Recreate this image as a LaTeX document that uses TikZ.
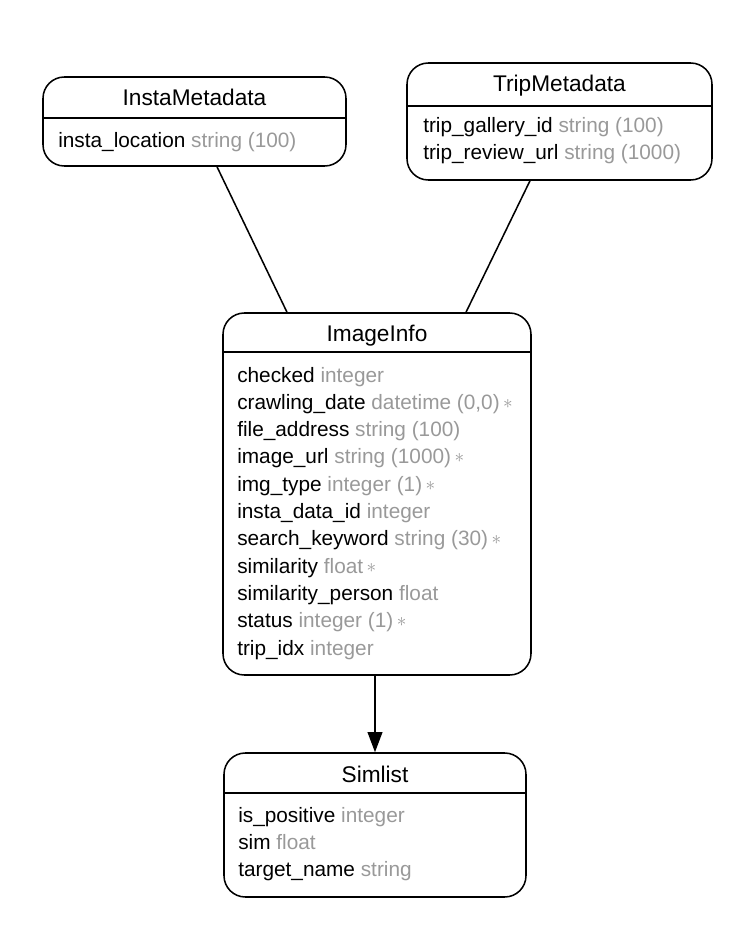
\documentclass[tikz,border=0pt]{standalone}
\usepackage{fontspec}
\setmainfont{Liberation Sans}
\usepackage{xcolor}
\usetikzlibrary{positioning, calc, fit, arrows.meta}
\definecolor{typegray}{gray}{0.6}

\newcommand{\fld}[2]{#1 \textcolor{typegray}{#2}}
\newcommand{\req}{\,\textcolor{typegray}{\raisebox{0.1ex}{$\ast$}}}

\tikzset{
	tablebox/.style={draw, line width=1.15pt, rounded corners=16pt, inner sep=0pt},
	tabletitle/.style={font=\fontsize{17}{20}\selectfont, inner sep=0pt, anchor=base},
	fieldrow/.style={font=\fontsize{15.6}{19}\selectfont, inner sep=0pt, anchor=base west},
	relation/.style={line width=1.15pt},
	headline/.style={line width=1.15pt}
}

\begin{document}
\begin{tikzpicture}[x=0.75pt, y=-0.75pt]
		\useasboundingbox (0,0) rectangle (744,932);
		\pgfmathsetmacro{\rowstep}{27.3}
		
		% InstaMetadata
		\coordinate (insta-nw) at (43,77);
		\coordinate (insta-se) at (346,166);
		\node[tablebox, fit=(insta-nw)(insta-se)] (insta) {};
		\draw[headline] (insta.west |- 0,118) -- (insta.east |- 0,118);
		\node[tabletitle] (insta-title) at (insta.north |- 0,105) {InstaMetadata};
		\node[fieldrow] (insta-f0) at (58,147) {\fld{insta\_location}{string (100)}};
		
		% TripMetadata
		\coordinate (trip-nw) at (407,63);
		\coordinate (trip-se) at (712,180);
		\node[tablebox, fit=(trip-nw)(trip-se)] (trip) {};
		\draw[headline] (trip.west |- 0,106) -- (trip.east |- 0,106);
		\node[tabletitle] (trip-title) at (trip.north |- 0,91) {TripMetadata};
		\foreach \f [count=\i from 0] in {{\fld{trip\_gallery\_id}{string (100)}},
			{\fld{trip\_review\_url}{string (1000)}}}
			\node[fieldrow] (trip-f\i) at (423,132+\rowstep*\i) {\f};
		
		% ImageInfo
		\coordinate (image-nw) at (223,313);
		\coordinate (image-se) at (531,675);
		\node[tablebox, fit=(image-nw)(image-se)] (image) {};
		\draw[headline] (image.west |- 0,352) -- (image.east |- 0,352);
		\node[tabletitle] (image-title) at (image.north |- 0,341.5) {ImageInfo};
		\foreach \f [count=\i from 0] in {{\fld{checked}{integer}},
			{\fld{crawling\_date}{datetime (0,0)}\req},
			{\fld{file\_address}{string (100)}},
			{\fld{image\_url}{string (1000)}\req},
			{\fld{img\_type}{integer (1)}\req},
			{\fld{insta\_data\_id}{integer}},
			{\fld{search\_keyword}{string (30)}\req},
			{\fld{similarity}{float}\req},
			{\fld{similarity\_person}{float}},
			{\fld{status}{integer (1)}\req},
			{\fld{trip\_idx}{integer}}}
			\node[fieldrow] (image-f\i) at (237,382+\rowstep*\i) {\f};
		
		% Simlist
		\coordinate (sim-nw) at (224,753);
		\coordinate (sim-se) at (526,897);
		\node[tablebox, fit=(sim-nw)(sim-se)] (simlist) {};
		\draw[headline] (simlist.west |- 0,793) -- (simlist.east |- 0,793);
		\node[tabletitle] (simlist-title) at (simlist.north |- 0,782) {Simlist};
		\foreach \f [count=\i from 0] in {{\fld{is\_positive}{integer}},
			{\fld{sim}{float}},
			{\fld{target\_name}{string}}}
			\node[fieldrow] (simlist-f\i) at (238,822+\rowstep*\i) {\f};
		
		% relations
		\draw[relation] ($(insta.south)+(22.5,0)$) -- ($(image.north)+(-90,0)$);
		\draw[relation] ($(trip.south)+(-29.5,0)$) -- ($(image.north)+(89,0)$);
		\draw[relation, -{Triangle[length=15pt, width=11pt]}] (image.south -| simlist.north) -- (simlist.north);
\end{tikzpicture}
\end{document}
